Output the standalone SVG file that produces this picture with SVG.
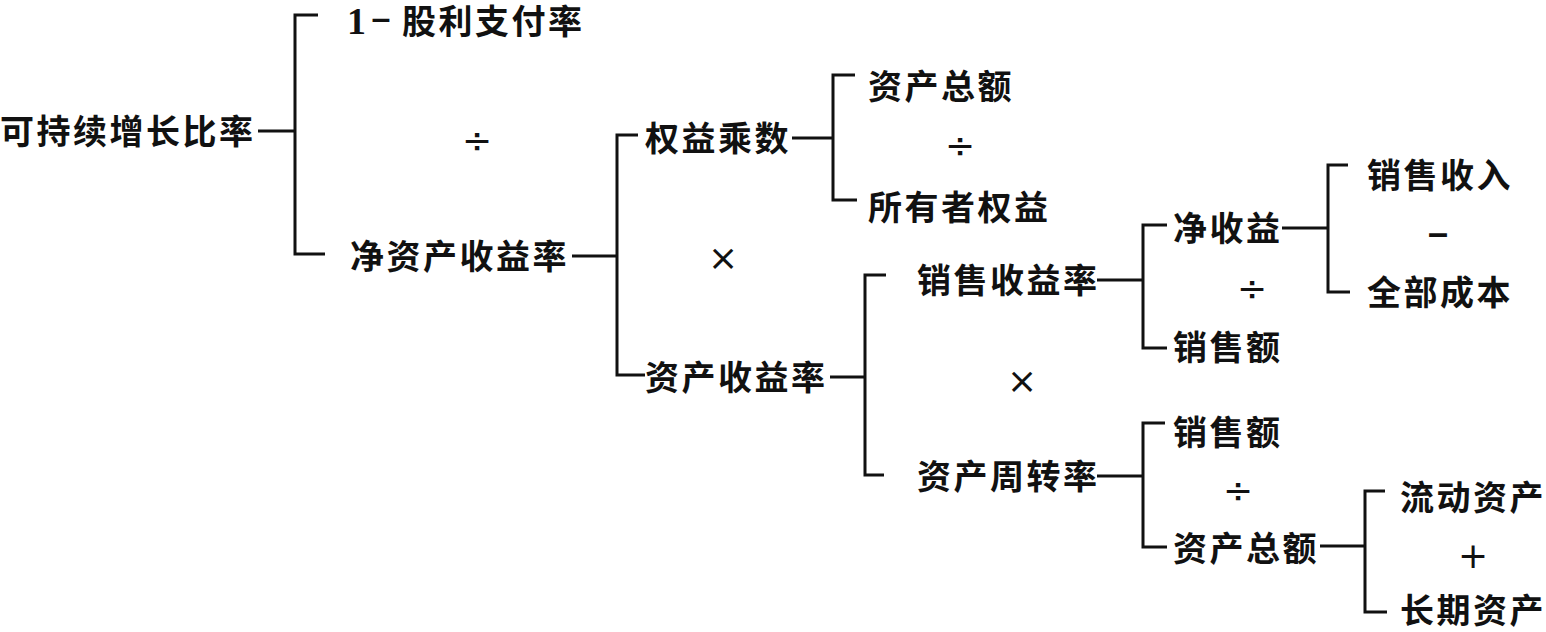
<svg xmlns="http://www.w3.org/2000/svg" width="1546" height="632" viewBox="0 0 1546 632">
<style>
.t{font-family:"Noto Sans CJK SC","Noto Sans",sans-serif;font-size:34px;font-weight:700;letter-spacing:2.5px;fill:#111}
.op{font-family:"DejaVu Sans","Liberation Sans",sans-serif;font-size:36px;fill:#111;text-anchor:middle;dominant-baseline:central}
.dash{font-family:"Liberation Sans",sans-serif;font-size:36px;font-weight:700;fill:#111;text-anchor:middle;dominant-baseline:central}
.c{fill:none;stroke:#111;stroke-width:3;stroke-linecap:butt}
</style>
<rect width="1546" height="632" fill="#fff"/>
<g id="connectors" class="c">
<path d="M258 131H295M318 15H295V254H325"/>
<path d="M572 256H617M638 135H617V375H645"/>
<path d="M792 138H833M855 75H833V200H857"/>
<path d="M830 377H865M886 275H865V475H884"/>
<path d="M1097 280H1143M1167 225H1143V348H1167"/>
<path d="M1282 228H1328M1348 165H1328V292H1350"/>
<path d="M1097 476H1143M1165 423H1143V547H1167"/>
<path d="M1320 546H1365M1385 491H1365V612H1387"/>
</g>
<g id="n-root"><text class="t" x="0" y="144">可持续增长比率</text></g>
<g id="n-payout"><text class="t" x="347" y="34"><tspan font-family="Liberation Serif,serif" font-size="38" font-weight="700" letter-spacing="0">1</tspan><tspan x="381" y="29" font-family="Liberation Sans,sans-serif" font-weight="700" text-anchor="middle" letter-spacing="0">–</tspan><tspan x="402" y="34">股利支付率</tspan></text></g>
<g id="op-div1"><text class="op" x="477" y="140">÷</text></g>
<g id="n-roe"><text class="t" x="350" y="269">净资产收益率</text></g>
<g id="n-em"><text class="t" x="645" y="151">权益乘数</text></g>
<g id="n-ta1"><text class="t" x="868" y="99">资产总额</text></g>
<g id="op-div2"><text class="op" x="960" y="145">÷</text></g>
<g id="n-oe"><text class="t" x="868" y="220">所有者权益</text></g>
<g id="op-mul1"><text class="op" x="723" y="257">×</text></g>
<g id="n-roa"><text class="t" x="645" y="390">资产收益率</text></g>
<g id="n-pm"><text class="t" x="917" y="293">销售收益率</text></g>
<g id="op-mul2"><text class="op" x="1022" y="380">×</text></g>
<g id="n-at"><text class="t" x="917" y="489">资产周转率</text></g>
<g id="n-ni"><text class="t" x="1173" y="241">净收益</text></g>
<g id="op-div3"><text class="op" x="1252" y="288">÷</text></g>
<g id="n-sales1"><text class="t" x="1173" y="360">销售额</text></g>
<g id="n-rev"><text class="t" x="1367" y="188">销售收入</text></g>
<g id="op-minus"><text class="dash" x="1438" y="232">–</text></g>
<g id="n-cost"><text class="t" x="1367" y="305">全部成本</text></g>
<g id="n-sales2"><text class="t" x="1173" y="445">销售额</text></g>
<g id="op-div4"><text class="op" x="1238" y="490">÷</text></g>
<g id="n-ta2"><text class="t" x="1173" y="561">资产总额</text></g>
<g id="n-ca"><text class="t" x="1400" y="510">流动资产</text></g>
<g id="op-plus"><text class="op" x="1473" y="555">+</text></g>
<g id="n-la"><text class="t" x="1400" y="623">长期资产</text></g>
</svg>
